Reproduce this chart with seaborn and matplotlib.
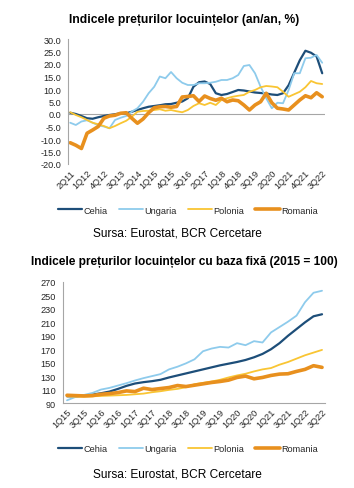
import numpy as np
import pandas as pd
import matplotlib
matplotlib.use("Agg")
import matplotlib.pyplot as plt
import seaborn as sns

sns.set_theme(style="white")
plt.rcParams['font.family'] = ['Liberation Sans', 'DejaVu Sans']
plt.rcParams['axes.unicode_minus'] = False

# ---------------- data: chart 1 (an/an, %) ----------------
quarters_yoy = [f"{q}Q{y:02d}" for y in range(11, 23) for q in range(1, 5)][1:47]
cehia_yoy = [0.5, 0.0, -0.8, -1.7, -1.9, -1.3, -0.8, -0.4, -0.1, 0.3, 0.3, 0.9,
             1.6, 2.3, 2.9, 3.2, 3.5, 3.9, 4.0, 4.5, 5.0, 6.3, 10.9, 12.7, 13.0,
             12.0, 8.3, 7.6, 8.0, 8.8, 9.6, 9.4, 9.0, 8.6, 8.4, 8.2, 7.8, 7.6,
             8.3, 11.5, 16.5, 21.5, 25.3, 24.5, 23.0, 16.3]
ungaria_yoy = [-3.5, -4.4, -3.0, -2.5, -3.5, -4.5, -5.0, -5.7, -2.4, -1.5, -0.8,
               1.0, 2.3, 4.9, 8.3, 10.9, 15.0, 14.3, 16.8, 14.3, 12.5, 11.6, 11.6,
               12.3, 12.3, 12.5, 12.9, 13.6, 13.6, 14.3, 15.6, 19.2, 19.6, 16.3,
               10.9, 6.3, 2.3, 4.5, 4.3, 9.6, 16.3, 16.3, 22.3, 22.5, 23.6, 20.5]
polonia_yoy = [0.7, -0.4, -1.3, -2.4, -3.5, -4.1, -4.8, -5.7, -4.8, -3.7, -2.7,
               -1.1, 0.9, 1.2, 1.3, 1.6, 1.9, 1.3, 1.6, 1.1, 0.7, 1.6, 3.2, 4.3,
               3.6, 4.5, 3.6, 5.6, 6.3, 6.9, 7.3, 7.6, 8.9, 9.6, 10.7, 11.2, 11.0,
               10.7, 8.9, 6.9, 7.9, 8.9, 10.7, 13.2, 12.3, 12.0]
romania_yoy = [-11.5, -12.5, -13.8, -7.7, -6.4, -5.0, -1.7, -0.8, -0.5, 0.3, 0.5,
               -1.7, -3.7, -2.0, 0.5, 2.5, 2.9, 3.0, 2.7, 3.0, 6.8, 7.0, 7.3, 5.0,
               7.2, 6.2, 5.5, 6.3, 4.9, 5.6, 5.3, 3.6, 1.6, 3.6, 4.9, 8.3, 4.5,
               2.3, 2.0, 1.6, 3.6, 5.6, 7.3, 6.5, 8.5, 6.9]

# ---------------- data: chart 2 (2015 = 100) ----------------
quarters_idx = [f"{q}Q{y:02d}" for y in range(15, 23) for q in range(1, 5)][:31]
cehia_idx = [100, 100, 101, 102.5, 104.5, 107, 111, 115.5, 119, 121, 122.5, 124.5,
             128, 131, 134, 137, 140, 143, 146, 148.5, 151, 154, 158, 163, 170,
             179, 190, 200, 210, 219, 222]
ungaria_idx = [94, 99, 102, 105, 110, 112.5, 116, 119.5, 123.5, 127, 130, 133, 140,
               144, 149, 155, 167, 171, 173.5, 172.5, 179, 176, 182, 180, 195, 203,
               211, 220, 240, 254, 257]
polonia_idx = [100, 99.5, 99.5, 100, 100.5, 101, 101.5, 102, 103, 104, 106, 107.5,
               109.5, 111, 113.5, 118, 120, 122, 124.5, 128, 131, 133.5, 137, 140,
               142, 147, 151, 156, 161, 165, 169]
romania_idx = [101.5, 101, 100.5, 101, 103, 104, 105.5, 108, 107, 112, 110, 111.5,
               113, 116, 114.5, 116.5, 118.5, 120.5, 122, 124, 128, 130, 126, 128,
               131, 133, 133.5, 137, 140, 145.5, 143]

countries = ["Cehia", "Ungaria", "Polonia", "Romania"]
colors = {"Cehia": "#1d4e79", "Ungaria": "#8ecbec", "Polonia": "#f9c533", "Romania": "#e8901e"}
widths = {"Cehia": 1.6, "Ungaria": 1.3, "Polonia": 1.3, "Romania": 2.6}

yoy = pd.DataFrame({"Cehia": cehia_yoy, "Ungaria": ungaria_yoy,
                    "Polonia": polonia_yoy, "Romania": romania_yoy})
yoy["pos"] = np.arange(len(quarters_yoy))
idx = pd.DataFrame({"Cehia": cehia_idx, "Ungaria": ungaria_idx,
                    "Polonia": polonia_idx, "Romania": romania_idx})
idx["pos"] = np.arange(len(quarters_idx))

W, H = 354, 489
fig = plt.figure(figsize=(W / 100, H / 100), dpi=100)

GRAY = "#a6a6a6"
TXT = "#262626"
FS = 6.6

def style_axes(ax):
    for s in ["top", "right"]:
        ax.spines[s].set_visible(False)
    ax.spines["left"].set_color(GRAY)
    ax.spines["left"].set_linewidth(0.8)
    ax.tick_params(axis="both", length=0, labelsize=FS, colors=TXT)
    ax.tick_params(axis="y", pad=5)
    ax.tick_params(axis="x", pad=3)

# ---------- top chart ----------
ax1 = fig.add_axes([68 / W, 1 - 165 / H, (325 - 68) / W, (165 - 40) / H])
for c in countries:
    sns.lineplot(data=yoy, x="pos", y=c, ax=ax1, color=colors[c],
                 linewidth=widths[c], label=c, legend=False)
ax1.axhline(0, color=GRAY, linewidth=0.8, zorder=0)
ax1.set_ylim(-20, 30)
ax1.set_yticks(np.arange(-20, 31, 5))
ax1.set_yticklabels([f"{v:.1f}" for v in np.arange(-20, 31, 5)])
ax1.set_xlim(-0.4, 45.5)
tpos1 = list(range(0, len(quarters_yoy), 3))
ax1.set_xticks(tpos1)
ax1.set_xticklabels([quarters_yoy[i] for i in tpos1], rotation=45,
                    ha="right", rotation_mode="anchor")
ax1.set_xlabel("")
ax1.set_ylabel("")
style_axes(ax1)
ax1.spines["bottom"].set_visible(False)

fig.text(0.52, 1 - 20 / H, "Indicele prețurilor locuințelor (an/an, %)",
         ha="center", va="center", fontsize=8.7, fontweight="bold", color="#000000")
h1, l1 = ax1.get_legend_handles_labels()
fig.legend(h1, l1, loc="center", bbox_to_anchor=(0.53, 1 - 211 / H), ncol=4,
           frameon=False, fontsize=FS, handlelength=2.7, handletextpad=0.1,
           columnspacing=1.2, labelcolor=TXT)
fig.text(0.5, 1 - 234 / H, "Sursa: Eurostat, BCR Cercetare", ha="center",
         va="center", fontsize=8.6, color="#000000")

# ---------- bottom chart ----------
ax2 = fig.add_axes([63 / W, 1 - 404 / H, (325 - 63) / W, (404 - 283) / H])
for c in countries:
    sns.lineplot(data=idx, x="pos", y=c, ax=ax2, color=colors[c],
                 linewidth=widths[c], label=c, legend=False)
ax2.set_ylim(90, 270)
ax2.set_yticks(np.arange(90, 271, 20))
ax2.set_xlim(-0.47, 30.35)
tpos2 = list(range(0, len(quarters_idx), 2))
ax2.set_xticks(tpos2)
ax2.set_xticklabels([quarters_idx[i] for i in tpos2], rotation=45,
                    ha="right", rotation_mode="anchor")
ax2.set_xlabel("")
ax2.set_ylabel("")
style_axes(ax2)
ax2.spines["bottom"].set_color(GRAY)
ax2.spines["bottom"].set_linewidth(0.8)

fig.text(0.52, 1 - 262 / H, "Indicele prețurilor locuințelor cu baza fixă (2015 = 100)",
         ha="center", va="center", fontsize=8.6, fontweight="bold", color="#000000")
h2, l2 = ax2.get_legend_handles_labels()
fig.legend(h2, l2, loc="center", bbox_to_anchor=(0.53, 1 - 450 / H), ncol=4,
           frameon=False, fontsize=FS, handlelength=2.7, handletextpad=0.1,
           columnspacing=1.2, labelcolor=TXT)
fig.text(0.5, 1 - 475 / H, "Sursa: Eurostat, BCR Cercetare", ha="center",
         va="center", fontsize=8.6, color="#000000")

fig.savefig("out.png", dpi=100, facecolor="white")
